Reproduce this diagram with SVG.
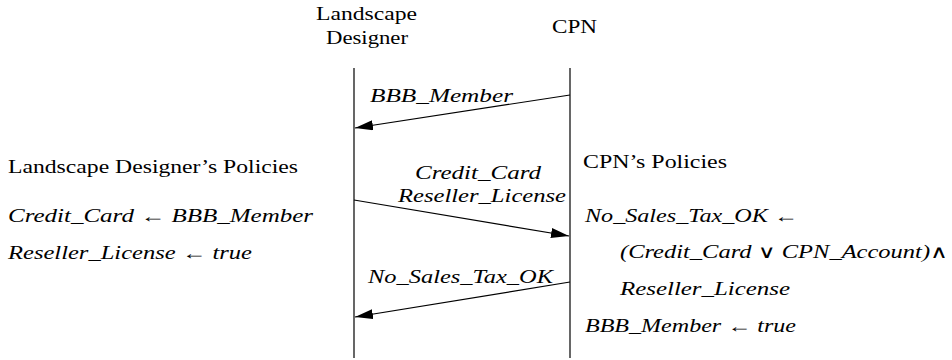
<svg xmlns="http://www.w3.org/2000/svg" width="952" height="360" viewBox="0 0 952 360">
<defs>
<marker id="ah" markerWidth="18" markerHeight="10" refX="18" refY="5" orient="auto" markerUnits="userSpaceOnUse">
<path d="M0,0 L18,5 L0,10 Z" fill="#000"/>
</marker>
<style>
.t{font-family:"Liberation Serif","DejaVu Serif",serif;font-size:18px;fill:#000}
.m{font-family:"Liberation Serif","DejaVu Serif",serif;font-size:18px;font-style:italic;fill:#000}
.ln{stroke:#000;stroke-width:1.2;fill:none}
.msg{stroke:#000;stroke-width:1.2;fill:none;marker-end:url(#ah)}
</style>
</defs>
<rect width="952" height="360" fill="#fff"/>
<g id="designer">
<text class="t" x="316" y="20" textLength="101" lengthAdjust="spacingAndGlyphs">Landscape</text>
<text class="t" x="326" y="44" textLength="82" lengthAdjust="spacingAndGlyphs">Designer</text>
<line class="ln" x1="354" y1="68" x2="354" y2="358"/>
</g>
<g id="cpn">
<text class="t" x="552" y="33" textLength="45" lengthAdjust="spacingAndGlyphs">CPN</text>
<line class="ln" x1="570" y1="68" x2="570" y2="358"/>
</g>
<g id="designer-policies">
<text class="t" x="8" y="173" textLength="290" lengthAdjust="spacingAndGlyphs">Landscape Designer’s Policies</text>
<text class="m" x="8" y="222" textLength="305" lengthAdjust="spacingAndGlyphs">Credit_Card ← BBB_Member</text>
<text class="m" x="8" y="259" textLength="244" lengthAdjust="spacingAndGlyphs">Reseller_License ← true</text>
</g>
<g id="cpn-policies">
<text class="t" x="583" y="168" textLength="144" lengthAdjust="spacingAndGlyphs">CPN’s Policies</text>
<text class="m" x="585" y="222" textLength="213" lengthAdjust="spacingAndGlyphs">No_Sales_Tax_OK ←</text>
<text class="m" x="620" y="258" textLength="328" lengthAdjust="spacingAndGlyphs">(Credit_Card ∨ CPN_Account)∧</text>
<text class="m" x="620" y="295" textLength="170" lengthAdjust="spacingAndGlyphs">Reseller_License</text>
<text class="m" x="585" y="332" textLength="211" lengthAdjust="spacingAndGlyphs">BBB_Member ← true</text>
</g>
<g id="connectors">
<line class="msg" x1="570" y1="95" x2="355" y2="128"/>
<text class="m" x="370" y="102" textLength="143" lengthAdjust="spacingAndGlyphs">BBB_Member</text>
<line class="msg" x1="354" y1="200" x2="569" y2="236"/>
<text class="m" x="415" y="179" textLength="126" lengthAdjust="spacingAndGlyphs">Credit_Card</text>
<text class="m" x="398" y="202" textLength="168" lengthAdjust="spacingAndGlyphs">Reseller_License</text>
<line class="msg" x1="570" y1="282" x2="355" y2="317"/>
<text class="m" x="368" y="283" textLength="185" lengthAdjust="spacingAndGlyphs">No_Sales_Tax_OK</text>
</g>
</svg>
